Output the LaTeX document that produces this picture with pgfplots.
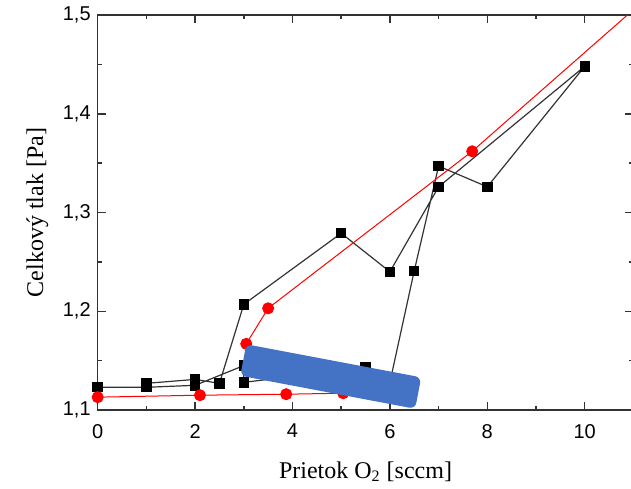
\documentclass[border=0pt]{standalone}
\usepackage{fontspec}
\setmainfont{Liberation Serif}
\setsansfont{Liberation Sans}
\usepackage{pgfplots}
\pgfplotsset{compat=1.18}
\definecolor{blueC}{HTML}{4472C4}
\definecolor{lineC}{HTML}{333333}
\begin{document}
\begin{tikzpicture}
\begin{axis}[
  at={(0,0)}, anchor=south west,
  scale only axis, width=267.85pt, height=197.5pt,
  xmin=0, xmax=11, ymin=1.1, ymax=1.5,
  xtick={0,2,4,6,8,10}, minor xtick={1,3,5,7,9},
  ytick={1.1,1.2,1.3,1.4,1.5}, minor ytick={1.15,1.25,1.35,1.45},
  tick align=inside,
  major tick length=4pt, minor tick length=2pt,
  axis line style={line width=0.75pt, color=lineC},
  every tick/.style={line width=0.75pt, color=lineC},
  tick label style={font=\sffamily\fontsize{10}{12}\selectfont},
  /pgf/number format/assume math mode=true,
  yticklabel style={/pgf/number format/.cd, fixed, fixed zerofill, precision=1, use comma},
  xticklabel style={yshift=-3.5pt, /pgf/number format/.cd, fixed, precision=0},
  xlabel={Prietok O\textsubscript{2} [sccm]},
  ylabel={Celkový tlak [Pa]},
  label style={font=\fontsize{12}{14}\selectfont},
  xlabel style={at={(axis description cs:0.5,-0.1722)}, anchor=base},
  ylabel style={at={(axis description cs:-0.1124,0.5)}, anchor=center},
  clip=true,
]
\addplot[color=lineC, line width=0.6pt, mark=square*, mark size=2.3pt,
  mark options={fill=black, draw=black, solid}] coordinates {
  (1,1.127) (2,1.131) (2.5,1.127) (3,1.207) (5,1.279) (6,1.240)
  (7,1.326) (10,1.448) (8,1.326) (7,1.347) (6.5,1.241) (6,1.128)
  (5.5,1.143) (3,1.128) (3,1.145) (2,1.125) (1,1.123) (0,1.123)
};
\addplot[color=red, line width=0.5pt, mark=*, mark size=2.75pt,
  mark options={fill=red, draw=red}] coordinates {
  (0,1.113) (2.1,1.115) (3.87,1.116) (5.04,1.117) (3.05,1.167)
  (3.5,1.203) (7.69,1.362)
};
\addplot[color=red, line width=0.5pt, mark=none] coordinates {
  (7.69,1.362) (11.5,1.527)
};
\coordinate (bc) at (axis cs:4.785,1.1339);
\end{axis}
\node[fill=blueC, draw=none, rotate=-10.7, minimum width=89pt,
  minimum height=16pt, inner sep=0pt, rounded corners=3pt] at (bc) {};
\pgfresetboundingbox
\useasboundingbox (-48.85pt,-39pt) rectangle (266.65pt,205pt);
\end{tikzpicture}
\end{document}
